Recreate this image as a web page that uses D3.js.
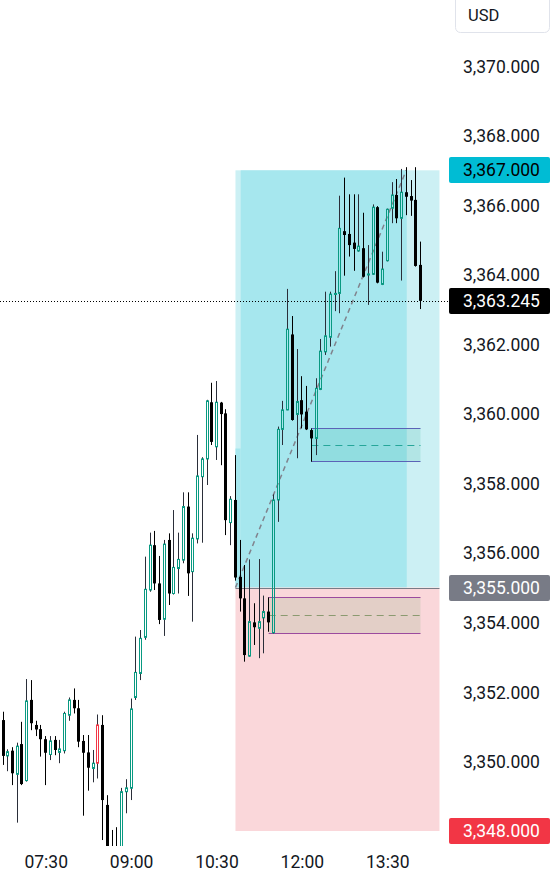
<!DOCTYPE html>
<html><head><meta charset="utf-8">
<script src="https://cdn.jsdelivr.net/npm/d3@7"></script>
<style>html,body{margin:0;padding:0;background:#fff;}svg{display:block;}</style>
</head><body>
<svg id="c" width="552" height="880"></svg>
<script>
// 5-minute candles starting 06:45
const opens = [3351.19,3350.16,3350.31,3349.63,3350.50,3349.45,3351.77,3351.05,3350.93,3350.64,3350.20,3350.62,3350.26,3350.31,3351.33,3351.77,3351.53,3350.59,3350.26,3349.80,3349.95,3351.05,3348.75,3347.55,3347.55,3347.45,3349.13,3349.23,3351.84,3352.53,3353.57,3354.93,3356.22,3355.12,3354.09,3356.37,3354.83,3355.55,3355.79,3357.33,3355.46,3356.40,3358.19,3358.70,3360.33,3359.05,3360.32,3360.01,3356.87,3357.52,3355.31,3354.69,3353.03,3354.00,3353.83,3354.13,3354.31,3353.70,3357.52,3359.55,3360.11,3362.28,3359.98,3360.39,3360.06,3359.53,3359.29,3360.70,3361.78,3362.20,3363.43,3363.46,3365.25,3365.17,3364.92,3364.68,3364.76,3363.99,3364.01,3365.94,3363.72,3364.40,3365.91,3366.29,3365.62,3366.37,3366.26,3366.15,3364.28];
const highs = [3351.43,3350.35,3350.41,3350.54,3351.14,3352.37,3352.34,3351.17,3351.05,3350.73,3350.73,3350.73,3350.62,3351.43,3351.84,3352.10,3351.77,3350.76,3350.76,3350.33,3351.35,3351.33,3349.03,3348.03,3348.11,3349.24,3349.49,3351.81,3353.59,3353.78,3355.89,3356.58,3356.63,3355.91,3356.37,3356.56,3357.23,3356.58,3357.74,3357.74,3356.56,3359.39,3358.75,3360.40,3360.89,3360.94,3360.34,3360.13,3357.63,3358.81,3356.37,3355.65,3355.81,3354.55,3355.82,3354.77,3354.72,3357.68,3359.63,3360.37,3363.59,3362.81,3361.86,3361.08,3360.80,3359.58,3361.02,3362.15,3363.51,3363.51,3364.10,3366.27,3366.79,3366.31,3366.31,3366.31,3365.78,3364.85,3366.02,3365.97,3364.66,3365.90,3366.66,3366.75,3367.04,3367.09,3366.72,3367.09,3364.95];
const lows = [3349.90,3349.72,3349.32,3348.24,3349.32,3349.42,3350.90,3350.73,3350.14,3349.32,3350.04,3350.18,3349.95,3350.23,3351.17,3351.38,3350.41,3348.44,3349.16,3349.40,3349.51,3347.74,3347.30,3347.20,3347.25,3347.30,3348.51,3348.89,3351.77,3352.34,3353.50,3354.88,3354.93,3353.95,3353.61,3354.50,3354.80,3354.83,3355.70,3354.76,3354.02,3356.27,3356.29,3357.95,3359.10,3358.67,3358.52,3356.51,3356.22,3355.20,3354.31,3352.87,3353.01,3353.35,3352.97,3353.11,3353.73,3353.68,3356.89,3359.10,3360.10,3359.80,3358.72,3359.58,3359.53,3358.62,3358.81,3360.68,3361.69,3361.93,3362.95,3362.89,3363.97,3364.52,3364.11,3364.66,3363.92,3363.13,3363.99,3363.75,3363.70,3364.38,3365.48,3365.48,3363.83,3365.71,3365.69,3364.23,3363.01];
const closes = [3350.16,3350.28,3349.66,3350.44,3349.35,3351.74,3351.10,3350.92,3350.64,3350.25,3350.59,3350.33,3350.36,3351.38,3351.77,3351.53,3350.57,3350.25,3349.82,3349.95,3351.05,3348.89,3347.45,3347.35,3347.45,3349.13,3349.24,3351.51,3352.56,3353.54,3354.95,3356.22,3355.12,3354.07,3356.25,3354.83,3355.58,3355.81,3357.33,3355.41,3356.42,3358.21,3358.70,3360.37,3359.19,3360.33,3359.99,3356.94,3357.54,3355.29,3354.69,3353.06,3354.02,3353.86,3354.02,3354.31,3354.00,3357.52,3359.55,3360.11,3362.43,3359.82,3360.35,3359.98,3359.55,3359.29,3360.73,3361.80,3362.24,3363.44,3363.46,3365.33,3365.14,3364.85,3364.74,3364.82,3363.94,3364.02,3365.94,3363.77,3364.16,3365.88,3366.29,3365.62,3366.37,3366.24,3366.13,3364.25,3363.245];
const redCandles = [20];

const timeLabels = ["07:30","09:00","10:30","12:00","13:30"];
const timeLabelIdx = [9,27,45,63,81];
const priceTicks = [3350,3352,3354,3356,3358,3360,3362,3364,3366,3368,3370];

// long position tool
const entryPrice = 3355, targetPrice = 3367, stopPrice = 3348;
const posStartIdx = 49, posEndIdx = 92, posHitIdx = 85;
const lastPrice = 3363.245;

// rectangles drawn on the chart [startIdx, endIdx, top, bottom]
const boxUpper = [65, 88, 3359.58, 3358.63];
const boxLower = [56, 88, 3354.72, 3353.68];

const W = 552, H = 880;
const svg = d3.select("#c");
const font = "Roboto, 'Noto Sans', sans-serif";
const txt = "#131722";

const x = d3.scaleLinear().domain([0, 88]).range([3.0, 420.5]);
const y = d3.scaleLinear().domain([3348, 3370]).range([831, 66]);

svg.append("defs").append("clipPath").attr("id","plot")
  .append("rect").attr("x",0).attr("y",0).attr("width",448).attr("height",846);
const plot = svg.append("g").attr("clip-path","url(#plot)");

// position zones
plot.append("rect").attr("x", x(posStartIdx)).attr("y", y(targetPrice))
  .attr("width", x(posEndIdx)-x(posStartIdx)).attr("height", y(entryPrice)-y(targetPrice))
  .attr("fill", "#ccf0f4");
plot.append("rect").attr("x", x(posStartIdx+1.1)).attr("y", y(targetPrice))
  .attr("width", x(posHitIdx+0.1)-x(posStartIdx+1.1)).attr("height", y(entryPrice)-y(targetPrice))
  .attr("fill", "#a6e7ee");
plot.append("rect").attr("x", x(posStartIdx)).attr("y", y(3359.0))
  .attr("width", x(posStartIdx+1.1)-x(posStartIdx)).attr("height", y(entryPrice)-y(3359.0))
  .attr("fill", "#a6e7ee");
plot.append("rect").attr("x", x(posStartIdx)).attr("y", y(entryPrice))
  .attr("width", x(posEndIdx)-x(posStartIdx)).attr("height", y(stopPrice)-y(entryPrice))
  .attr("fill", "#fad7da");
plot.append("line").attr("x1", x(posStartIdx)).attr("x2", x(posEndIdx))
  .attr("y1", Math.round(y(entryPrice))+0.5).attr("y2", Math.round(y(entryPrice))+0.5)
  .attr("stroke", "#787b86").attr("stroke-width", 1);

// boxes
function drawBox(b, fill, border, dash) {
  const x0 = x(b[0]), x1 = x(b[1]);
  const yt = Math.round(y(b[2]))+0.5, yb = Math.round(y(b[3]))+0.5, ym = Math.round(y((b[2]+b[3])/2))+0.5;
  plot.append("rect").attr("x", x0).attr("y", yt).attr("width", x1-x0).attr("height", yb-yt).attr("fill", fill);
  plot.append("line").attr("x1",x0).attr("x2",x1).attr("y1",yt).attr("y2",yt).attr("stroke",border);
  plot.append("line").attr("x1",x0).attr("x2",x1).attr("y1",yb).attr("y2",yb).attr("stroke",border);
  plot.append("line").attr("x1",x0).attr("x2",x1).attr("y1",ym).attr("y2",ym).attr("stroke",dash)
    .attr("stroke-dasharray","7,5");
}
drawBox(boxUpper, "rgba(8,153,129,0.13)", "#5b63b7", "#26a69a");
drawBox(boxLower, "rgba(170,185,150,0.28)", "#9b4a9e", "#8b9a70");

// entry -> target dashed line
plot.append("line").attr("x1", x(posStartIdx)).attr("y1", y(entryPrice))
  .attr("x2", x(posHitIdx)).attr("y2", y(targetPrice))
  .attr("stroke", "#80838d").attr("stroke-width", 1.5).attr("stroke-dasharray", "5,4");

// candles
const green = "#089981", red = "#f23645", wick = "#2a2e39";
const candles = d3.range(opens.length).map(i => ({i, o: opens[i], h: highs[i], l: lows[i], c: closes[i]}));
const cg = plot.append("g");
candles.forEach(d => {
  const cx = x(d.i);
  const left = Math.round(cx - 1.5);
  const mid = left + 1.5;
  const up = d.c >= d.o;
  const isRed = redCandles.includes(d.i);
  const top = y(Math.max(d.o, d.c)), bot = y(Math.min(d.o, d.c));
  const bh = Math.max(bot - top, 1);
  if (up) {
    const col = isRed ? red : green;
    cg.append("line").attr("x1", mid).attr("x2", mid).attr("y1", y(d.h)).attr("y2", top)
      .attr("stroke", wick).attr("stroke-width", 1);
    cg.append("line").attr("x1", mid).attr("x2", mid).attr("y1", top + bh).attr("y2", y(d.l))
      .attr("stroke", wick).attr("stroke-width", 1);
    cg.append("rect").attr("x", left + 0.5).attr("y", top).attr("width", 2).attr("height", bh)
      .attr("fill", "none").attr("stroke", col).attr("stroke-width", 1);
  } else {
    cg.append("line").attr("x1", mid).attr("x2", mid).attr("y1", y(d.h)).attr("y2", y(d.l))
      .attr("stroke", "#000").attr("stroke-width", 1);
    cg.append("rect").attr("x", left).attr("y", top).attr("width", 3).attr("height", bh)
      .attr("fill", "#000");
  }
});

// last price dotted line
svg.append("line").attr("x1", 0).attr("x2", 449)
  .attr("y1", Math.round(y(lastPrice))+0.5).attr("y2", Math.round(y(lastPrice))+0.5)
  .attr("stroke", "#000").attr("stroke-width", 1).attr("stroke-dasharray", "1,2");

// price axis
const ya = svg.append("g").attr("transform", "translate(463,0)")
  .call(d3.axisRight(y).tickValues(priceTicks).tickFormat(d3.format(",.3f")).tickSize(0).tickPadding(0));
ya.select(".domain").remove();
ya.selectAll("text").attr("font-family", font).attr("font-size", 17.5).attr("fill", txt).attr("dy", "0.35em");

// time axis
const xa = svg.append("g").attr("transform", "translate(0,862)")
  .call(d3.axisBottom(x).tickValues(timeLabelIdx).tickFormat((d, i) => timeLabels[i]).tickSize(0).tickPadding(0));
xa.select(".domain").remove();
xa.selectAll("text").attr("font-family", font).attr("font-size", 17.5).attr("fill", txt).attr("y", 0).attr("dy", "0.35em");

// USD box
svg.append("rect").attr("x", 455.5).attr("y", -5.5).attr("width", 94).attr("height", 38).attr("rx", 5)
  .attr("fill", "#fff").attr("stroke", "#e0e3eb");
svg.append("text").attr("x", 468).attr("y", 15).attr("dy", "0.35em").attr("font-family", font)
  .attr("font-size", 16.5).attr("fill", txt).text("USD");

// price badges
const badges = [
  {v: targetPrice, bg: "#00bcd4", fg: "#000"},
  {v: lastPrice, bg: "#000", fg: "#fff"},
  {v: entryPrice, bg: "#787b86", fg: "#fff"},
  {v: stopPrice, bg: "#f23645", fg: "#fff"}
];
badges.forEach(b => {
  const yy = y(b.v);
  svg.append("rect").attr("x", 449).attr("y", Math.round(yy) - 13).attr("width", 101).attr("height", 26)
    .attr("rx", 2).attr("fill", b.bg);
  svg.append("text").attr("x", 463).attr("y", Math.round(yy)).attr("dy", "0.35em")
    .attr("font-family", font).attr("font-size", 17.5).attr("fill", b.fg)
    .text(d3.format(",.3f")(b.v));
});
</script>
</body></html>
